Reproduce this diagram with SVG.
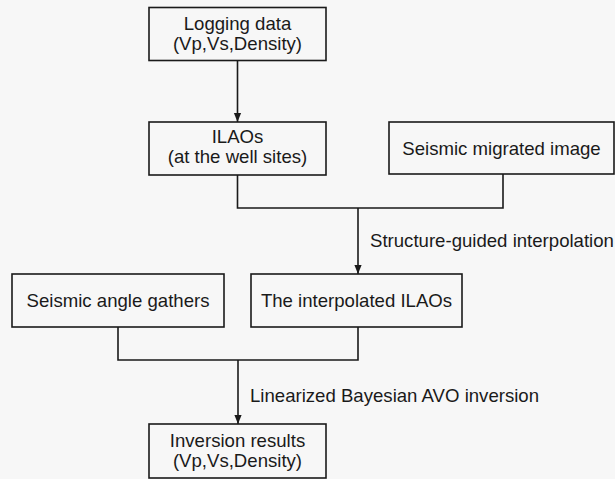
<svg xmlns="http://www.w3.org/2000/svg" width="615" height="479" viewBox="0 0 615 479">
<style>
.box{fill:none;stroke:#1a1a1a;stroke-width:1.6}
.t{font-family:"Liberation Sans",Arial,sans-serif;font-size:18.6px;fill:#1a1a1a;text-anchor:middle}
.lbl{font-family:"Liberation Sans",Arial,sans-serif;font-size:18.6px;fill:#1a1a1a}
.c{fill:none;stroke:#1a1a1a;stroke-width:1.6}
</style>
<defs>
<marker id="a" viewBox="0 0 10 10" refX="10" refY="5" markerWidth="9" markerHeight="9" orient="auto" markerUnits="userSpaceOnUse">
<path d="M0,1 L10,5 L0,9 z" fill="#1a1a1a"/>
</marker>
</defs>
<rect width="615" height="479" fill="#f7f7f7"/>
<g id="connectors">
<path class="c" d="M237.5,60 V122" marker-end="url(#a)"/>
<path class="c" d="M237.5,175 V208 H503 V174"/>
<path class="c" d="M358,208 V274" marker-end="url(#a)"/>
<path class="c" d="M118,327 V360 H358 V327"/>
<path class="c" d="M238,360 V424" marker-end="url(#a)"/>
<text class="lbl" x="370" y="247">Structure-guided interpolation</text>
<text class="lbl" x="250" y="402">Linearized Bayesian AVO inversion</text>
</g>
<g id="logging">
<rect class="box" x="149" y="7.5" width="177" height="53"/>
<text class="t" x="237.5" y="30">Logging data</text>
<text class="t" x="237.5" y="50">(Vp,Vs,Density)</text>
</g>
<g id="ilaos">
<rect class="box" x="149" y="122" width="177" height="53"/>
<text class="t" x="237.5" y="143">ILAOs</text>
<text class="t" x="237.5" y="163">(at the well sites)</text>
</g>
<g id="migrated">
<rect class="box" x="389" y="122" width="225" height="52"/>
<text class="t" x="501.5" y="155">Seismic migrated image</text>
</g>
<g id="angle">
<rect class="box" x="12" y="274" width="212" height="53"/>
<text class="t" x="118" y="307">Seismic angle gathers</text>
</g>
<g id="interp">
<rect class="box" x="251" y="274" width="211" height="53"/>
<text class="t" x="356.5" y="307">The interpolated ILAOs</text>
</g>
<g id="results">
<rect class="box" x="149" y="424" width="177" height="54"/>
<text class="t" x="237.5" y="447">Inversion results</text>
<text class="t" x="237.5" y="467">(Vp,Vs,Density)</text>
</g>
</svg>
